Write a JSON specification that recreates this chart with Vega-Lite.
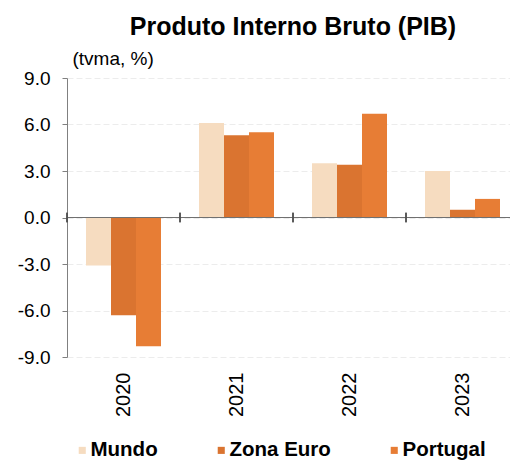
{
  "$schema": "https://vega.github.io/schema/vega-lite/v6.json",
  "autosize": {"type": "none"},
  "padding": {"left": 67, "top": 78, "right": 0, "bottom": 109},
  "width": 452,
  "height": 279,
  "background": "white",
  "config": {
    "font": "Liberation Sans",
    "view": {"stroke": null}
  },
  "title": {
    "text": "Produto Interno Bruto (PIB)",
    "fontSize": 25,
    "fontWeight": "bold",
    "color": "#000000",
    "anchor": "middle",
    "frame": "group",
    "baseline": "alphabetic",
    "offset": 14,
    "dy": 25
  },
  "data": {
    "values": [
      {"ano": "2020", "serie": "Mundo", "valor": -3.1},
      {"ano": "2020", "serie": "Zona Euro", "valor": -6.3},
      {"ano": "2020", "serie": "Portugal", "valor": -8.3},
      {"ano": "2021", "serie": "Mundo", "valor": 6.1},
      {"ano": "2021", "serie": "Zona Euro", "valor": 5.3},
      {"ano": "2021", "serie": "Portugal", "valor": 5.5},
      {"ano": "2022", "serie": "Mundo", "valor": 3.5},
      {"ano": "2022", "serie": "Zona Euro", "valor": 3.4},
      {"ano": "2022", "serie": "Portugal", "valor": 6.7},
      {"ano": "2023", "serie": "Mundo", "valor": 3.0},
      {"ano": "2023", "serie": "Zona Euro", "valor": 0.5},
      {"ano": "2023", "serie": "Portugal", "valor": 1.2}
    ]
  },
  "layer": [
    {
      "mark": {"type": "bar"},
      "encoding": {
        "x": {
          "field": "ano",
          "type": "nominal",
          "scale": {"paddingInner": 0, "paddingOuter": 0},
          "axis": {
            "title": null,
            "orient": "bottom",
            "labelAngle": -90,
            "labelFontSize": 20,
            "labelColor": "#000000",
            "labelPadding": 15,
            "domain": false,
            "ticks": false
          }
        },
        "xOffset": {
          "field": "serie",
          "type": "nominal",
          "sort": ["Mundo", "Zona Euro", "Portugal"],
          "scale": {"paddingInner": 0, "paddingOuter": 0.76}
        },
        "y": {
          "field": "valor",
          "type": "quantitative",
          "scale": {"domain": [-9, 9], "nice": false, "zero": false},
          "axis": {
            "values": [-9, -6, -3, 0, 3, 6, 9],
            "labelExpr": "replace(format(datum.value, '.1f'), '\u2212', '-')",
            "labelFontSize": 19,
            "labelColor": "#000000",
            "labelPadding": 12,
            "tickSize": 5,
            "tickColor": "#808080",
            "domainColor": "#808080",
            "grid": true,
            "gridColor": "#ececec",
            "gridDash": [6, 3],
            "title": "(tvma, %)",
            "titleAngle": 0,
            "titleAlign": "left",
            "titleBaseline": "alphabetic",
            "titleX": 5,
            "titleY": -14,
            "titleFontSize": 19,
            "titleFontWeight": "normal",
            "titleColor": "#000000"
          }
        },
        "color": {
          "field": "serie",
          "type": "nominal",
          "sort": ["Mundo", "Zona Euro", "Portugal"],
          "scale": {
            "domain": ["Mundo", "Zona Euro", "Portugal"],
            "range": ["#f6dcc0", "#da7430", "#e77d35"]
          },
          "legend": {
            "title": null,
            "orient": "none",
            "direction": "horizontal",
            "legendX": 5,
            "legendY": 362,
            "symbolType": "square",
            "symbolSize": 50,
            "symbolStrokeWidth": 0,
            "labelFontSize": 20.5,
            "labelFontWeight": "bold",
            "labelColor": "#000000",
            "labelOffset": -2,
            "columnPadding": 53
          }
        }
      }
    },
    {
      "mark": {"type": "rule", "color": "#707070", "strokeWidth": 1.2},
      "encoding": {
        "y": {"datum": 0}
      }
    },
    {
      "mark": {"type": "rule", "color": "#505050", "strokeWidth": 1.2},
      "encoding": {
        "x": {
          "field": "ano",
          "type": "nominal",
          "bandPosition": 0,
          "axis": {
            "title": null,
            "orient": "bottom",
            "labelAngle": -90,
            "labelFontSize": 20,
            "labelColor": "#000000",
            "labelPadding": 15,
            "domain": false,
            "ticks": false
          }
        },
        "y": {"datum": 0.3},
        "y2": {"datum": -0.3}
      }
    }
  ]
}
